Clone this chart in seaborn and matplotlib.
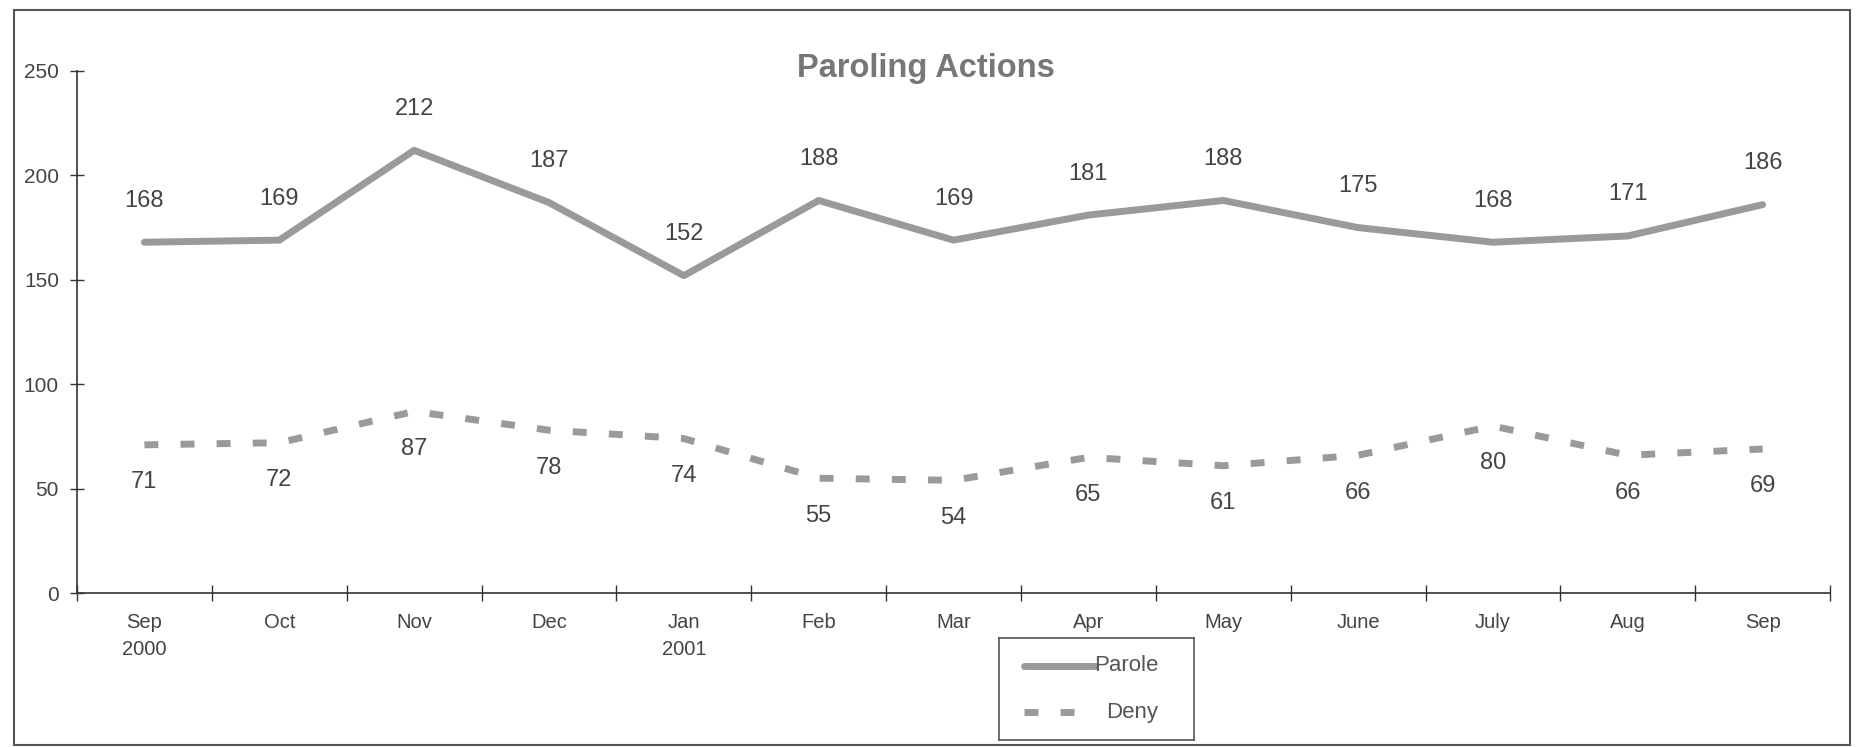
import numpy
import pandas
import matplotlib
matplotlib.use('Agg')
import matplotlib.pyplot as plt
import seaborn as sns
from matplotlib.patches import Rectangle

months = ['Sep\n2000', 'Oct', 'Nov', 'Dec', 'Jan\n2001', 'Feb', 'Mar',
          'Apr', 'May', 'June', 'July', 'Aug', 'Sep']
parole = [168, 169, 212, 187, 152, 188, 169, 181, 188, 175, 168, 171, 186]
deny = [71, 72, 87, 78, 74, 55, 54, 65, 61, 66, 80, 66, 69]

sns.set_style('white')
plt.rcParams['font.family'] = ['Liberation Sans', 'DejaVu Sans']

pos = numpy.arange(len(months)) + 0.5
data = pandas.DataFrame({'pos': list(pos) * 2,
                         'value': parole + deny,
                         'series': ['Parole'] * len(parole) + ['Deny'] * len(deny)})

fig = plt.figure(figsize=(18.6, 7.47), dpi=100)
ax = fig.add_axes([0.0414, 0.206, 0.9425, 0.699])

lineColor = '#9a9a9a'
sns.lineplot(data=data, x='pos', y='value', hue='series', style='series',
             palette={'Parole': lineColor, 'Deny': lineColor},
             dashes={'Parole': '', 'Deny': (2, 3.2)},
             linewidth=5, ax=ax, legend=False)
ax.lines[0].set_solid_capstyle('round')

for x, v in zip(pos, parole):
    ax.annotate(str(v), (x, v), xytext=(0, 22), textcoords='offset points',
                ha='center', va='bottom', fontsize=17, color='#444444')
for x, v in zip(pos, deny):
    ax.annotate(str(v), (x, v), xytext=(0, -19), textcoords='offset points',
                ha='center', va='top', fontsize=17, color='#444444')

ax.set_xlim(0, len(months))
ax.set_ylim(0, 250)
ax.set_yticks([0, 50, 100, 150, 200, 250])
ax.set_xticks(numpy.arange(len(months) + 1))
ax.set_xticklabels([])
ax.set_xticks(pos, minor=True)
ax.set_xticklabels(months, minor=True, fontsize=14.5, color='#444444', linespacing=1.55)
ax.tick_params(axis='x', which='minor', bottom=True, length=0, pad=14)
ax.tick_params(axis='x', which='major', bottom=True, direction='inout', length=12,
               width=1, color='#333333')
ax.tick_params(axis='y', left=True, direction='inout', length=10, width=1, color='#333333',
               labelsize=15, labelcolor='#444444', pad=8)
ax.set_xlabel('')
ax.set_ylabel('')
for side in ['top', 'right']:
    ax.spines[side].set_visible(False)
for side in ['left', 'bottom']:
    ax.spines[side].set_color('#333333')
    ax.spines[side].set_linewidth(1.2)

fig.text(0.498, 0.908, 'Paroling Actions', ha='center', va='center',
         fontsize=23.5, fontweight='bold', color='#777777')

# legend box drawn by hand
legAx = fig.add_axes([999 / 1860, 1 - 740 / 747, 195 / 1860, 102 / 747])
legAx.set_xlim(0, 1)
legAx.set_ylim(0, 1)
legAx.set_xticks([])
legAx.set_yticks([])
for s in legAx.spines.values():
    s.set_color('#555555')
    s.set_linewidth(1.2)
legAx.plot([0.13, 0.49], [0.73, 0.73], color=lineColor, lw=5, solid_capstyle='round')
legAx.plot([0.13, 0.45], [0.27, 0.27], color=lineColor, lw=5, dashes=(2, 3.2))
legAx.text(0.49, 0.73, 'Parole', va='center', ha='left', fontsize=16, color='#555555')
legAx.text(0.55, 0.27, 'Deny', va='center', ha='left', fontsize=16, color='#555555')

fig.patches.append(Rectangle((14 / 1860, 2 / 747), 1836 / 1860, 735 / 747,
                             transform=fig.transFigure, fill=False,
                             edgecolor='#555555', linewidth=1.5))

fig.savefig('out.png', dpi=100)
